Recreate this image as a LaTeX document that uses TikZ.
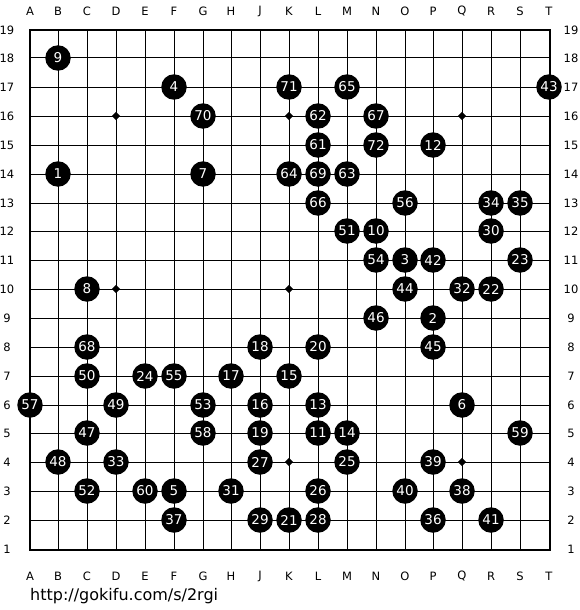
\documentclass[tikz,border=0pt]{standalone}
\usepackage{fontspec}
\setmainfont{DejaVu Sans}
\begin{document}
\begin{tikzpicture}[x=1pt,y=-1pt,
  stone/.style={circle,fill=black,minimum size=25.5pt,inner sep=0pt,text=white,font=\fontsize{13.5}{13.5}\selectfont},
  lbl/.style={inner sep=0pt,font=\fontsize{11.5}{11.5}\selectfont},
  gridline/.style={line width=1pt},
  border/.style={line width=2pt}]
\def\S{28.85}
\useasboundingbox (0,0) rectangle (580,610);
\fill[white] (0,0) rectangle (580,610);
% grid
\foreach \i in {1,...,17}{
  \pgfmathsetmacro{\p}{floor(30+\i*\S)}
  \draw[gridline] (\p,30) -- (\p,550);
  \draw[gridline] (30,\p) -- (550,\p);
}
\draw[border] (30,30) rectangle (550,550);
% star points
\foreach \c/\r in {3/4,9/4,15/4,3/10,9/10,15/10,3/16,9/16,15/16}{
  \pgfmathsetmacro{\px}{floor(30+\c*\S)}
  \pgfmathsetmacro{\py}{floor(30+(19-\r)*\S)}
  \fill[shift={(\px,\py)}] (-4.2,0) -- (0,-4.2) -- (4.2,0) -- (0,4.2) -- cycle;
}
% coordinate labels
\foreach \l [count=\i from 0] in {A,B,C,D,E,F,G,H,J,K,L,M,N,O,P,Q,R,S,T}{
  \pgfmathsetmacro{\px}{floor(30+\i*\S)}
  \node[lbl] (top\l) at (\px,11) {\l};
  \node[lbl] (bot\l) at (\px,576) {\l};
}
\foreach \r in {1,...,19}{
  \pgfmathsetmacro{\py}{floor(30+(19-\r)*\S)}
  \node[lbl] (left\r) at (7,\py) {\r};
  \node[lbl] (right\r) at (571,\py) {\r};
}
% stones
\foreach \c/\r/\n in {
  1/18/9, 5/17/4, 9/17/71, 11/17/65, 18/17/43,
  6/16/70, 10/16/62, 12/16/67,
  10/15/61, 12/15/72, 14/15/12,
  1/14/1, 6/14/7, 9/14/64, 10/14/69, 11/14/63,
  10/13/66, 13/13/56, 16/13/34, 17/13/35,
  11/12/51, 12/12/10, 16/12/30,
  12/11/54, 13/11/3, 14/11/42, 17/11/23,
  2/10/8, 13/10/44, 15/10/32, 16/10/22,
  12/9/46, 14/9/2,
  2/8/68, 8/8/18, 10/8/20, 14/8/45,
  2/7/50, 4/7/24, 5/7/55, 7/7/17, 9/7/15,
  0/6/57, 3/6/49, 6/6/53, 8/6/16, 10/6/13, 15/6/6,
  2/5/47, 6/5/58, 8/5/19, 10/5/11, 11/5/14, 17/5/59,
  1/4/48, 3/4/33, 8/4/27, 11/4/25, 14/4/39,
  2/3/52, 4/3/60, 5/3/5, 7/3/31, 10/3/26, 13/3/40, 15/3/38,
  5/2/37, 8/2/29, 9/2/21, 10/2/28, 14/2/36, 16/2/41}{
  \pgfmathsetmacro{\px}{floor(30+\c*\S)}
  \pgfmathsetmacro{\py}{floor(30+(19-\r)*\S)}
  \node[stone] (s\n) at (\px,\py) {\n};
}
% url
\node[anchor=base west,inner sep=0pt,font=\fontsize{16}{16}\selectfont] (url) at (30,600) {http://gokifu.com/s/2rgi};
\end{tikzpicture}
\end{document}
